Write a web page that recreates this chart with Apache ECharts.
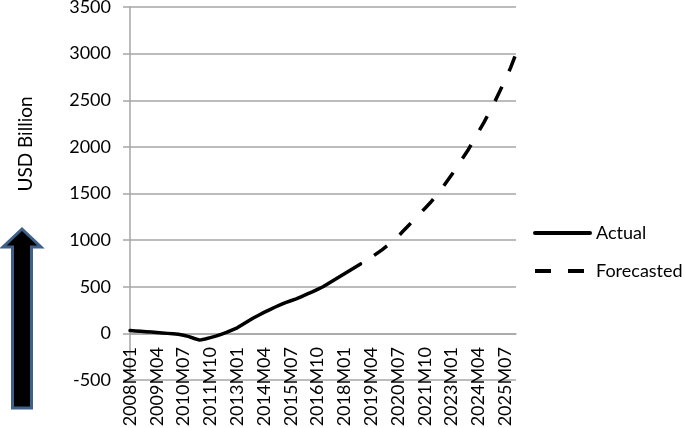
<!DOCTYPE html>
<html>
<head>
<meta charset="utf-8">
<script src="https://cdn.jsdelivr.net/npm/echarts@6/dist/echarts.min.js"></script>
<style>html,body{margin:0;padding:0;background:#fff;}#c{width:685px;height:428px;}</style>
</head>
<body>
<div id="c"></div>
<script>
var categories = [
'2008M01','2008M04','2008M07','2008M10','2009M01','2009M04','2009M07','2009M10',
'2010M01','2010M04','2010M07','2010M10','2011M01','2011M04','2011M07','2011M10',
'2012M01','2012M04','2012M07','2012M10','2013M01','2013M04','2013M07','2013M10',
'2014M01','2014M04','2014M07','2014M10','2015M01','2015M04','2015M07','2015M10',
'2016M01','2016M04','2016M07','2016M10','2017M01','2017M04','2017M07','2017M10',
'2018M01','2018M04','2018M07','2018M10','2019M01','2019M04','2019M07','2019M10',
'2020M01','2020M04','2020M07','2020M10','2021M01','2021M04','2021M07','2021M10',
'2022M01','2022M04','2022M07','2022M10','2023M01','2023M04','2023M07','2023M10',
'2024M01','2024M04','2024M07','2024M10','2025M01','2025M04','2025M07','2025M10',
'2026M01'];
// Actual: 2008M01 .. 2018M10
var actualValues = [30,26,22,18,14,10,5,0,-5,-10,-20,-35,-55,-72,-60,-45,-30,-10,10,35,
60,95,130,165,195,225,252,280,305,330,350,370,395,420,445,472,500,535,570,605,640,675,710,745];
// Forecasted: 2018M10 .. 2026M01
var forecastValues = [745,780,815,855,895,940,990,1040,1100,1160,1220,1280,1340,1400,1470,
1540,1620,1700,1790,1875,1960,2060,2160,2260,2370,2480,2600,2720,2850,3000];
var yTicks = {min:-500, max:3500, interval:500};

var forecastStart = actualValues.length - 1;
var actualData = categories.map(function(c,i){ return i < actualValues.length ? actualValues[i] : null; });
var forecastData = categories.map(function(c,i){ return i >= forecastStart ? forecastValues[i-forecastStart] : null; });

var FONT = 'Lato';
var chart = echarts.init(document.getElementById('c'), null, {renderer:'canvas'});
chart.setOption({
  animation:false,
  backgroundColor:'#fff',
  grid:{left:130, right:169, top:7, bottom:48, containLabel:false, outerBoundsMode:'none'},
  legend:{
    orient:'vertical', left:533, top:224, padding:0, itemWidth:55, itemHeight:14, itemGap:20,
    textStyle:{fontFamily:FONT, fontSize:18, color:'#000', padding:[0,0,0,1]},
    itemStyle:{opacity:0},
    lineStyle:{width:4, dashOffset:0},
    data:['Actual','Forecasted']
  },
  xAxis:{
    type:'category', data:categories, boundaryGap:false,
    axisLine:{show:true, onZero:true, lineStyle:{color:'#a6a6a6', width:1.5}},
    axisTick:{show:false},
    axisLabel:{rotate:90, interval:4, margin:-33, fontFamily:FONT, fontSize:18, color:'#000'},
    splitLine:{show:false}
  },
  yAxis:{
    type:'value', min:yTicks.min, max:yTicks.max, interval:yTicks.interval,
    axisLine:{show:true, lineStyle:{color:'#a6a6a6', width:1.5}},
    axisTick:{show:true, length:7, lineStyle:{color:'#a6a6a6', width:1.5}},
    axisLabel:{margin:19, fontFamily:FONT, fontSize:18, color:'#000', formatter:function(v){return String(v);}},
    splitLine:{show:true, lineStyle:{color:'#a6a6a6', width:1.5}}
  },
  series:[
    {name:'Actual', type:'line', data:actualData, symbol:'none', connectNulls:false,
     lineStyle:{color:'#000', width:3.5, cap:'round', join:'round'}, itemStyle:{color:'#000'}},
    {name:'Forecasted', type:'line', data:forecastData, symbol:'none', connectNulls:false,
     lineStyle:{color:'#000', width:3.5, type:[16,17], dashOffset:17, cap:'butt', join:'round'}, itemStyle:{color:'#000'}}
  ],
  graphic:[
    {type:'text', x:26, y:144, rotation:Math.PI/2,
     style:{text:'USD Billion', font:'19px Lato', fill:'#000', align:'center', verticalAlign:'middle'}},
    {type:'polygon',
     shape:{points:[[22,229],[3,247],[12.5,247],[12.5,408],[31.5,408],[31.5,247],[41,247]]},
     style:{fill:'#000', stroke:'#3f6089', lineWidth:3}}
  ]
});
</script>
</body>
</html>
